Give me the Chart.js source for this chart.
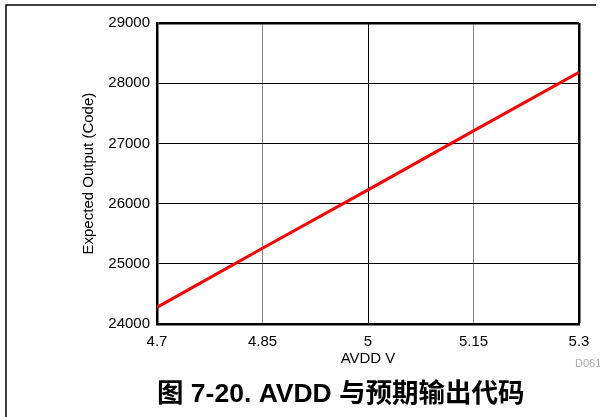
<!DOCTYPE html>
<html>
<head>
<meta charset="utf-8">
<script src="https://cdn.jsdelivr.net/npm/chart.js@4"></script>
<style>
  html, body { margin: 0; padding: 0; background: #fff; }
  #wrap { width: 600px; height: 417px; position: relative; }
</style>
</head>
<body>
<div id="wrap"><canvas id="avddChart" width="600" height="417"></canvas></div>
<script>
const avddVolts = [4.7, 4.85, 5, 5.15, 5.3];
const expectedCodes = [24280, 25260, 26230, 27210, 28180];
const xTicks = [4.7, 4.85, 5, 5.15, 5.3];
const yTicks = [24000, 25000, 26000, 27000, 28000, 29000];

const fontFamily = "'Liberation Sans', Arial, 'Noto Sans CJK SC', sans-serif";

// frame lines and the grey figure id
const pageDecor = {
    id: 'pageDecor',
    afterDraw(chart) {
        const c = chart.ctx;
        c.save();
        c.strokeStyle = '#000';
        c.lineWidth = 1.5;
        c.beginPath();
        c.moveTo(6, 417);
        c.lineTo(6, 5);
        c.lineTo(596, 5);
        c.stroke();
        c.fillStyle = '#aaaaaa';
        c.font = '11px ' + fontFamily;
        c.textBaseline = 'middle';
        c.fillText('D061', 575, 364);
        c.restore();
    }
};

new Chart(document.getElementById('avddChart'), {
    type: 'line',
    data: {
        datasets: [{
            data: avddVolts.map((v, i) => ({ x: v, y: expectedCodes[i] })),
            borderColor: '#ff0000',
            borderWidth: 3,
            pointRadius: 0,
            tension: 0
        }]
    },
    options: {
        responsive: false,
        animation: false,
        layout: { padding: { left: 0, right: 21, top: 23, bottom: 6 } },
        plugins: {
            legend: { display: false },
            tooltip: { enabled: false },
            title: {
                display: true,
                position: 'bottom',
                align: 'start',
                fullSize: false,
                text: '图 7-20. AVDD 与预期输出代码',
                color: '#000',
                font: { family: fontFamily, size: 26.5, weight: 'bold' },
                padding: { top: 3, bottom: 0 }
            }
        },
        scales: {
            x: {
                type: 'linear',
                min: 4.7,
                max: 5.3,
                afterBuildTicks: s => { s.ticks = xTicks.map(v => ({ value: v })); },
                afterFit: s => { s.height = 52; },
                ticks: {
                    color: '#000',
                    padding: 9,
                    maxRotation: 0,
                    autoSkip: false,
                    font: { family: fontFamily, size: 15 },
                    callback: v => String(Math.round(v * 100) / 100)
                },
                grid: {
                    drawTicks: false,
                    color: c => (c.tick && (Math.abs(c.tick.value - 4.85) < 1e-6 || Math.abs(c.tick.value - 5.15) < 1e-6)) ? '#888888' : '#000000',
                    lineWidth: c => (c.index === xTicks.length - 1 ? 2.5 : 1)
                },
                border: { color: '#000', width: 2.5 },
                title: {
                    display: true,
                    text: 'AVDD V',
                    color: '#000',
                    font: { family: fontFamily, size: 15 },
                    padding: { top: 0, bottom: 8 }
                }
            },
            y: {
                min: 24000,
                max: 29000,
                afterBuildTicks: s => { s.ticks = yTicks.map(v => ({ value: v })); },
                afterFit: s => { s.width = 157; },
                ticks: {
                    color: '#000',
                    padding: 7,
                    font: { family: fontFamily, size: 15 },
                    callback: v => String(v)
                },
                grid: {
                    drawTicks: false,
                    color: '#000',
                    lineWidth: c => (c.index === yTicks.length - 1 ? 2.5 : 1)
                },
                border: { color: '#000', width: 2.5 },
                title: {
                    display: true,
                    text: 'Expected Output (Code)',
                    color: '#000',
                    font: { family: fontFamily, size: 15 },
                    padding: { top: 80, bottom: 0 }
                }
            }
        }
    },
    plugins: [pageDecor]
});
</script>
</body>
</html>
